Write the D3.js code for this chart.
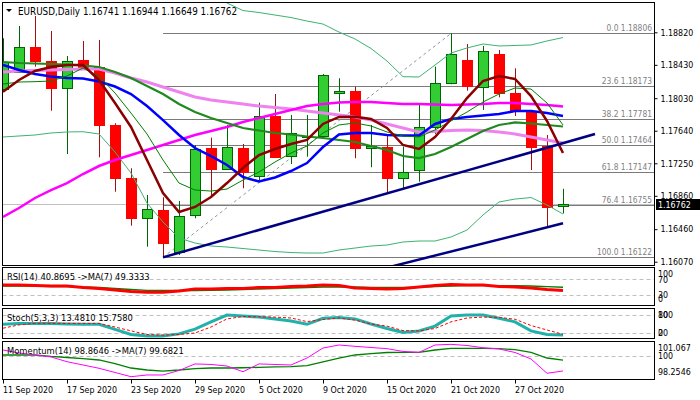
<!DOCTYPE html>
<html>
<head>
<meta charset="utf-8">
<script src="https://cdn.jsdelivr.net/npm/d3@7"></script>
<style>
  body { margin: 0; background: #fff; }
  svg { display: block; }
  text { font-family: "DejaVu Sans Condensed", "DejaVu Sans", sans-serif; }
</style>
</head>
<body>
<svg id="chart"></svg>
<script>
// bar dates (one per daily candle)
const dates = ['11 Sep 2020','14 Sep 2020','15 Sep 2020','16 Sep 2020','17 Sep 2020','18 Sep 2020',
  '21 Sep 2020','22 Sep 2020','23 Sep 2020','24 Sep 2020','25 Sep 2020','28 Sep 2020','29 Sep 2020',
  '30 Sep 2020','1 Oct 2020','2 Oct 2020','5 Oct 2020','6 Oct 2020','7 Oct 2020','8 Oct 2020',
  '9 Oct 2020','12 Oct 2020','13 Oct 2020','14 Oct 2020','15 Oct 2020','16 Oct 2020','19 Oct 2020',
  '20 Oct 2020','21 Oct 2020','22 Oct 2020','23 Oct 2020','26 Oct 2020','27 Oct 2020','28 Oct 2020',
  '29 Oct 2020','30 Oct 2020'];
const dateTicks = [0, 4, 8, 12, 16, 20, 24, 28, 32];

// OHLC
const open  = [1.18149,1.18340,1.18640,1.18476,1.18161,1.18488,1.18400,1.17705,1.17070,1.16585,1.16690,1.16190,
  1.16621,1.17437,1.17185,1.17437,1.17101,1.17817,1.17329,1.17565,1.17568,1.18089,1.18116,1.17429,1.17445,
  1.17070,1.17166,1.17681,1.18209,1.18488,1.18168,1.18560,1.18089,1.17877,1.17457,1.16741];
const high  = [1.18748,1.18896,1.19015,1.18836,1.18536,1.18716,1.18728,1.17729,1.17190,1.16870,1.16842,1.16798,
  1.17469,1.17557,1.17709,1.17481,1.17976,1.18080,1.17829,1.17829,1.18320,1.18269,1.18168,1.17709,1.17577,
  1.17449,1.17949,1.18408,1.18806,1.18680,1.18656,1.18608,1.18388,1.17889,1.17589,1.16944];
const low   = [1.18128,1.18332,1.18408,1.17880,1.17361,1.18368,1.17322,1.16909,1.16502,1.16250,1.16122,1.16150,
  1.16590,1.16849,1.17178,1.16950,1.17049,1.17313,1.17241,1.17329,1.17553,1.17868,1.17310,1.17202,1.16890,
  1.16950,1.17029,1.17601,1.18197,1.18120,1.17889,1.18041,1.17817,1.17169,1.16482,1.16649];
const close = [1.18468,1.18640,1.18468,1.18156,1.18480,1.18400,1.17700,1.17065,1.16585,1.16698,1.16298,1.16618,
  1.17417,1.17185,1.17445,1.17145,1.17817,1.17329,1.17609,1.17573,1.18305,1.18113,1.17429,1.17457,1.17070,
  1.17142,1.17681,1.18209,1.18556,1.18180,1.18596,1.18089,1.17868,1.17449,1.16729,1.16762];

// moving averages
const maMaroon = [1.18108,1.18248,1.18356,1.18404,1.18428,1.18428,1.18248,1.17972,1.17685,1.17289,1.16893,1.16666,
  1.16726,1.16846,1.17013,1.17193,1.17349,1.17421,1.17481,1.17529,1.17721,1.17805,1.17808,1.17781,1.17673,
  1.17469,1.17421,1.17565,1.17781,1.18032,1.18236,1.18296,1.18260,1.18056,1.17757,1.17373];
const maThinGreen = [1.18200,1.18224,1.18228,1.18236,1.18296,1.18392,1.18296,1.18092,1.17852,1.17601,1.17289,1.17013,
  1.16929,1.16917,1.16941,1.17049,1.17145,1.17265,1.17373,1.17457,1.17613,1.17709,1.17733,1.17697,1.17625,
  1.17577,1.17565,1.17649,1.17757,1.17864,1.17984,1.18080,1.18152,1.18140,1.17972,1.17709];
const maBlue = [1.18428,1.18368,1.18320,1.18290,1.18272,1.18266,1.18230,1.18170,1.18080,1.17936,1.17768,1.17589,
  1.17433,1.17337,1.17229,1.17085,1.17031,1.17079,1.17157,1.17253,1.17445,1.17595,1.17613,1.17613,1.17589,
  1.17583,1.17583,1.17721,1.17781,1.17805,1.17822,1.17840,1.17876,1.17876,1.17852,1.17816];
const maGreen = [1.18464,1.18452,1.18446,1.18440,1.18434,1.18422,1.18404,1.18344,1.18272,1.18176,1.18080,1.17960,
  1.17864,1.17793,1.17733,1.17673,1.17643,1.17613,1.17595,1.17571,1.17553,1.17529,1.17505,1.17457,1.17409,
  1.17337,1.17313,1.17361,1.17445,1.17541,1.17637,1.17709,1.17739,1.17727,1.17709,1.17691];
const maMagenta = [1.16606,1.16714,1.16834,1.16929,1.17013,1.17121,1.17217,1.17289,1.17349,1.17409,1.17469,1.17529,
  1.17589,1.17637,1.17685,1.17745,1.17793,1.17840,1.17888,1.17936,1.17960,1.17978,1.17984,1.17984,1.17972,
  1.17960,1.17960,1.17954,1.17948,1.17954,1.17960,1.17972,1.17972,1.17960,1.17948,1.17930];
const maViolet = [1.18344,1.18356,1.18362,1.18368,1.18374,1.18380,1.18380,1.18332,1.18272,1.18224,1.18164,1.18104,
  1.18044,1.18008,1.17984,1.17960,1.17936,1.17918,1.17900,1.17876,1.17852,1.17829,1.17805,1.17768,1.17721,
  1.17673,1.17625,1.17631,1.17643,1.17649,1.17643,1.17625,1.17601,1.17565,1.17529,1.17493];
const bbUpper = [1.19351,1.19339,1.19327,1.19303,1.19267,1.19243,1.19231,1.19279,1.19351,1.19447,1.19543,1.19507,
  1.19423,1.19303,1.19171,1.19081,1.19057,1.19027,1.18997,1.18955,1.18919,1.18823,1.18740,1.18626,1.18476,
  1.18288,1.18284,1.18428,1.18572,1.18632,1.18680,1.18656,1.18662,1.18668,1.18716,1.18757];
const bbLower = [1.17565,1.17577,1.17589,1.17613,1.17625,1.17628,1.17601,1.17385,1.17133,1.16773,1.16546,1.16354,
  1.16294,1.16258,1.16246,1.16228,1.16210,1.16192,1.16180,1.16174,1.16174,1.16210,1.16234,1.16258,1.16270,
  1.16306,1.16318,1.16318,1.16366,1.16450,1.16630,1.16786,1.16821,1.16839,1.16750,1.16642];

// oscillators
const rsi   = [55,55,54,52.6,52.6,48.7,46,42,38,36,36,39.5,44.7,44.7,46,46,48.7,48.7,51.3,52.6,55,54,47.4,46,44.7,
  46,50,54,56.6,55,55,51.3,50,47.4,43.4,40.8695];
const rsiMa = [52.6,52.6,52.6,51.3,51.3,50,48.7,46,43.4,41.3,40.8,40.8,40.8,41.3,42,43.4,44.7,46,47.4,48.7,50,50,50,
  49.2,48.7,48.7,49.2,51.3,52.6,53.4,53.4,53.4,53.4,52.6,50.8,49.3333];
const stochK = [49,52,52,52,50,49,49,32,15,10,10,17,33,57,80,77,73,67,60,49,69,72,67,50,35,22,27,43,77,80,80,69,57,
  27,15,13.481];
const stochD = [36,47,52,52,52,52,52,40,27,15,13,15,20,40,67,75,74,73,70,58,65,70,63,50,43,28,27,35,57,70,73,72,66,
  45,30,15.758];
const mom   = [100.46,100.23,100.08,99.93,99.57,99.32,99.07,98.75,98.43,98.56,98.56,98.90,99.40,99.36,99.24,98.81,
  99.40,99.36,99.32,99.85,100.61,100.84,100.74,100.65,100.56,100.35,100.28,100.84,100.89,100.80,100.63,100.54,
  100.27,99.78,98.69,98.8646];
const momMa = [100.08,100.08,100.08,99.97,99.89,99.81,99.70,99.43,99.09,98.94,98.86,98.94,99.05,99.09,99.09,99.11,
  99.14,99.17,99.20,99.27,99.55,99.85,100.08,100.19,100.27,100.28,100.28,100.46,100.59,100.59,100.59,100.56,
  100.48,100.28,99.85,99.6821];

// fibonacci retracement (25 Sep low -> 21 Oct high)
const fibLevels = ['0.0', '23.6', '38.2', '50.0', '61.8', '76.4', '100.0'];
const fibPrices = [1.18806, 1.18173, 1.17781, 1.17464, 1.17147, 1.16755, 1.16122];
const fibStart = 10;
const fibTrend = [[10, 1.16122], [28, 1.18806]];
// channel lines [bar index, price]
const channelUpper = [[10, 1.16122], [37, 1.17601]];
const channelLower = [[24, 1.15999], [35, 1.16530]];

const priceTicks = [1.18820, 1.18430, 1.18030, 1.17640, 1.17250, 1.16860, 1.16460, 1.16070];
const lastPrice = 1.16762;

const width = 700, height = 400;
const L = 2.5, R = 654.5;
const main = {top: 2.5, bottom: 265.5};
const pRsi = {top: 267.5, bottom: 305.5};
const pSto = {top: 308.5, bottom: 338.5};
const pMom = {top: 341.5, bottom: 379.5};

const svg = d3.select('#chart').attr('width', width).attr('height', height);

const x = d3.scaleLinear().domain([0, 35]).range([3, 563]);
const y = d3.scaleLinear().domain([1.16070, 1.18820]).range([261.7, 32.3]);
const yRsi = d3.scaleLinear().domain([0, 100]).range([306, 268]);
const ySto = d3.scaleLinear().domain([0, 100]).range([339, 309]);
const yMom = d3.scaleLinear().domain([98.2546, 101.067]).range([379, 342]);

const defs = svg.append('defs');
function clip(id, p) {
  defs.append('clipPath').attr('id', id).append('rect')
    .attr('x', L + 0.5).attr('y', p.top + 0.5).attr('width', R - L - 1).attr('height', p.bottom - p.top - 1);
  return svg.append('g').attr('clip-path', `url(#${id})`);
}

// ---------- main panel ----------
const gm = clip('c-main', main);

// fib levels
gm.selectAll('.fib').data(fibPrices).enter().append('line')
  .attr('x1', x(fibStart)).attr('x2', R)
  .attr('y1', d => Math.round(y(d)) + 0.5).attr('y2', d => Math.round(y(d)) + 0.5)
  .attr('stroke', '#7a7a7a').attr('stroke-width', 1);
gm.append('line')
  .attr('x1', x(fibTrend[0][0])).attr('y1', y(fibTrend[0][1]))
  .attr('x2', x(fibTrend[1][0])).attr('y2', y(fibTrend[1][1]))
  .attr('stroke', '#8a96a6').attr('stroke-width', 1).attr('stroke-dasharray', '3,3');
gm.selectAll('.fibl').data(fibPrices).enter().append('text')
  .attr('x', 652).attr('y', d => Math.round(y(d)) - 2)
  .attr('text-anchor', 'end').attr('font-size', '8.4px').attr('fill', '#7f7f7f')
  .text((d, i) => `${fibLevels[i]} ${d.toFixed(5)}`);

// bid line
gm.append('line').attr('x1', L).attr('x2', R)
  .attr('y1', Math.round(y(lastPrice)) + 0.5).attr('y2', Math.round(y(lastPrice)) + 0.5)
  .attr('stroke', '#c0c0c0');

// candles
const bars = d3.range(dates.length);
const cg = gm.append('g');
bars.forEach(i => {
  const up = close[i] >= open[i];
  const cx = Math.round(x(i)) + 0.5;
  const col = up ? '#006400' : '#a01010';
  cg.append('line').attr('x1', cx).attr('x2', cx)
    .attr('y1', y(high[i])).attr('y2', y(low[i])).attr('stroke', col);
  const top = y(Math.max(open[i], close[i])), bot = y(Math.min(open[i], close[i]));
  cg.append('rect')
    .attr('x', cx - 5).attr('width', 10)
    .attr('y', Math.round(top) + 0.5).attr('height', Math.max(1, Math.round(bot - top)))
    .attr('fill', up ? '#32cd32' : '#ff0000')
    .attr('stroke', up ? '#006400' : '#ff0000');
});

const line = d3.line().x((d, i) => x(i)).y(d => y(d));
function drawLine(g, data, color, w, gen, dash) {
  g.append('path').datum(data).attr('d', gen || line)
    .attr('fill', 'none').attr('stroke', color).attr('stroke-width', w)
    .attr('stroke-dasharray', dash || null);
}
drawLine(gm, bbUpper, '#3cb371', 1);
drawLine(gm, bbLower, '#3cb371', 1);
drawLine(gm, maViolet, '#ee82ee', 3);
drawLine(gm, maMagenta, '#ff00ff', 2.5);
drawLine(gm, maGreen, '#1e8a1e', 2.2);
drawLine(gm, maBlue, '#0000ff', 2.5);
drawLine(gm, maThinGreen, '#008000', 1);
drawLine(gm, maMaroon, '#8b0000', 2.5);

const seg = d3.line().x(d => x(d[0])).y(d => y(d[1]));
drawLine(gm, channelUpper, '#000080', 2.5, seg);
drawLine(gm, channelLower, '#000080', 2.5, seg);

// title
svg.append('path').attr('d', 'M6,9 L12,9 L9,12 Z').attr('fill', '#000');
svg.append('text').attr('x', 18).attr('y', 14.5).attr('font-size', '9.8px').attr('fill', '#000')
  .text('EURUSD,Daily  1.16741 1.16944 1.16649 1.16762');

// price axis
const yAxis = svg.append('g').attr('transform', `translate(${R},0)`)
  .call(d3.axisRight(y).tickValues(priceTicks).tickSize(3).tickPadding(3).tickFormat(d3.format('.5f')));
yAxis.select('.domain').remove();
yAxis.selectAll('text').attr('font-size', '8.8px').attr('font-family', '"DejaVu Sans Condensed", sans-serif').attr('fill', '#000');
yAxis.selectAll('line').attr('stroke', '#000');

const ly = Math.round(y(lastPrice));
svg.append('rect').attr('x', 656).attr('y', ly - 5).attr('width', 44).attr('height', 11).attr('fill', '#000');
svg.append('text').attr('x', 658).attr('y', ly + 3.5).attr('font-size', '8.8px').attr('fill', '#fff')
  .text(lastPrice.toFixed(5));

// ---------- RSI ----------
const gr = clip('c-rsi', pRsi);
[70, 30].forEach(v => gr.append('line').attr('x1', L).attr('x2', R)
  .attr('y1', Math.round(yRsi(v)) + 0.5).attr('y2', Math.round(yRsi(v)) + 0.5)
  .attr('stroke', '#c0c0c0').attr('stroke-dasharray', '4,3'));
const lr = d3.line().x((d, i) => x(i)).y(d => yRsi(d));
drawLine(gr, rsiMa, '#008000', 1.3, lr);
drawLine(gr, rsi, '#ff0000', 3, lr);
svg.append('text').attr('x', 7).attr('y', 280).attr('font-size', '9.3px')
  .text('RSI(14) 40.8695  ->MA(7) 49.3333');

// ---------- Stoch ----------
const gs = clip('c-sto', pSto);
[80, 20].forEach(v => gs.append('line').attr('x1', L).attr('x2', R)
  .attr('y1', Math.round(ySto(v)) + 0.5).attr('y2', Math.round(ySto(v)) + 0.5)
  .attr('stroke', '#c0c0c0').attr('stroke-dasharray', '4,3'));
const ls = d3.line().x((d, i) => x(i)).y(d => ySto(d));
drawLine(gs, stochK, '#20b2aa', 3, ls);
drawLine(gs, stochD, '#ff0000', 1, ls, '3,2');
svg.append('text').attr('x', 7).attr('y', 321).attr('font-size', '9.3px')
  .text('Stoch(5,3,3) 13.4810 15.7580');

// ---------- Momentum ----------
const gmo = clip('c-mom', pMom);
gmo.append('line').attr('x1', L).attr('x2', R)
  .attr('y1', Math.round(yMom(100)) + 0.5).attr('y2', Math.round(yMom(100)) + 0.5)
  .attr('stroke', '#c0c0c0').attr('stroke-dasharray', '4,3');
svg.append('text').attr('x', 7).attr('y', 354).attr('font-size', '9.3px')
  .text('Momentum(14) 98.8646  ->MA(7) 99.6821');
const lmo = d3.line().x((d, i) => x(i)).y(d => yMom(d));
drawLine(gmo, momMa, '#008000', 1.3, lmo);
drawLine(gmo, mom, '#ff00ff', 1, lmo);

// indicator scale labels
const sub = svg.append('g').attr('font-size', '8.8px').attr('fill', '#000');
const subLabels = [
  ['100', yRsi(100) + 6], ['70', yRsi(70)], ['30', yRsi(30)], ['0', yRsi(0) - 7],
  ['100', ySto(80)], ['80', ySto(80)], ['20', ySto(20)], ['0', ySto(20)],
  ['101.067', yMom(101.067) + 6], ['100', yMom(100)], ['98.2546', yMom(98.2546) - 7]
];
subLabels.forEach(([t, yy]) => sub.append('text').attr('x', 658).attr('y', yy + 3.2).text(t));
[pRsi, pSto, pMom].forEach(p => {
  [p.top + 0.5].forEach(() => {});
});

// frames
[main, pRsi, pSto, pMom].forEach(p => {
  svg.append('rect').attr('x', L).attr('y', p.top).attr('width', R - L).attr('height', p.bottom - p.top)
    .attr('fill', 'none').attr('stroke', '#000');
});

// date axis
const xAxis = svg.append('g').attr('transform', `translate(0,${pMom.bottom})`)
  .call(d3.axisBottom(x).tickValues(dateTicks).tickSize(4).tickPadding(3).tickFormat(i => dates[i]));
xAxis.select('.domain').remove();
xAxis.selectAll('line').attr('stroke', '#000');
xAxis.selectAll('text').attr('text-anchor', 'start').attr('dx', '-0.5')
  .attr('font-size', '8.8px').attr('font-family', '"DejaVu Sans Condensed", sans-serif').attr('fill', '#000');
</script>
</body>
</html>
